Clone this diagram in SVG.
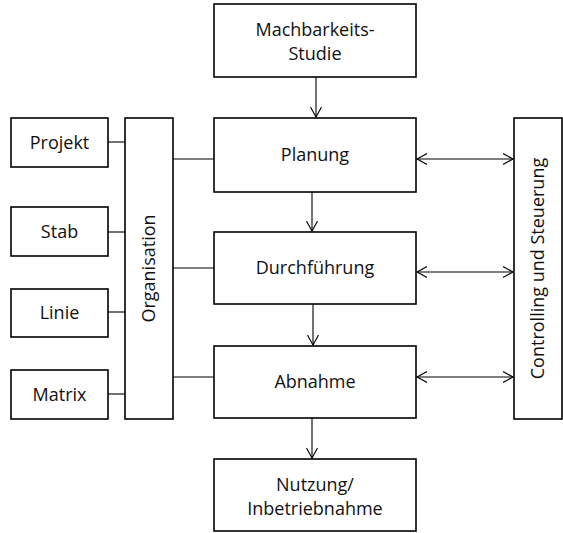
<svg xmlns="http://www.w3.org/2000/svg" width="563" height="533" viewBox="0 0 563 533">
<style>
.box{fill:#fff;stroke:#000;stroke-width:1.6}
.t{font-family:"Open Sans","Noto Sans",sans-serif;font-size:18px;fill:#111;text-anchor:middle}
.c{stroke:#000;stroke-width:1.1;fill:none}
</style>
<defs>
<marker id="ah" markerUnits="userSpaceOnUse" markerWidth="12" markerHeight="14" refX="10" refY="6" orient="auto-start-reverse" viewBox="0 0 12 12">
<path d="M0,0.5 L10,6 L0,11.5" fill="none" stroke="#000" stroke-width="1.1"/>
</marker>
</defs>
<rect width="563" height="533" fill="#fff"/>
<g id="connectors">
<line class="c" x1="316" y1="77" x2="316" y2="117" marker-end="url(#ah)"/>
<line class="c" x1="312" y1="192" x2="312" y2="231" marker-end="url(#ah)"/>
<line class="c" x1="313" y1="304" x2="313" y2="345" marker-end="url(#ah)"/>
<line class="c" x1="312" y1="418" x2="312" y2="458" marker-end="url(#ah)"/>
<line class="c" x1="417" y1="159" x2="513" y2="159" marker-start="url(#ah)" marker-end="url(#ah)"/>
<line class="c" x1="417" y1="272" x2="513" y2="272" marker-start="url(#ah)" marker-end="url(#ah)"/>
<line class="c" x1="417" y1="377" x2="513" y2="377" marker-start="url(#ah)" marker-end="url(#ah)"/>
<line class="c" x1="173" y1="159" x2="214" y2="159"/>
<line class="c" x1="173" y1="268" x2="214" y2="268"/>
<line class="c" x1="173" y1="377" x2="214" y2="377"/>
<line class="c" x1="108" y1="142" x2="125" y2="142"/>
<line class="c" x1="108" y1="232" x2="125" y2="232"/>
<line class="c" x1="108" y1="312" x2="125" y2="312"/>
<line class="c" x1="108" y1="394" x2="125" y2="394"/>
</g>
<g id="machbarkeit"><rect class="box" x="214" y="4" width="202" height="73"/><text class="t" x="315" y="36">Machbarkeits-</text><text class="t" x="315" y="60">Studie</text></g>
<g id="planung"><rect class="box" x="214" y="118" width="202" height="74"/><text class="t" x="315" y="161">Planung</text></g>
<g id="durchfuehrung"><rect class="box" x="214" y="232" width="202" height="72"/><text class="t" x="315" y="274">Durchführung</text></g>
<g id="abnahme"><rect class="box" x="214" y="346" width="202" height="72"/><text class="t" x="315" y="388">Abnahme</text></g>
<g id="nutzung"><rect class="box" x="214" y="459" width="202" height="72"/><text class="t" x="315" y="491">Nutzung/</text><text class="t" x="315" y="515">Inbetriebnahme</text></g>
<g id="projekt"><rect class="box" x="11" y="118" width="97" height="49"/><text class="t" x="59.5" y="148.5">Projekt</text></g>
<g id="stab"><rect class="box" x="11" y="207" width="97" height="49"/><text class="t" x="59.5" y="237.5">Stab</text></g>
<g id="linie"><rect class="box" x="11" y="289" width="97" height="48"/><text class="t" x="59.5" y="319">Linie</text></g>
<g id="matrix"><rect class="box" x="11" y="370" width="97" height="49"/><text class="t" x="59.5" y="400.5">Matrix</text></g>
<g id="organisation"><rect class="box" x="125" y="118" width="48" height="301"/><text class="t" transform="translate(155,268.5) rotate(-90)">Organisation</text></g>
<g id="controlling"><rect class="box" x="514" y="118" width="48" height="301"/><text class="t" transform="translate(544,268.5) rotate(-90)">Controlling und Steuerung</text></g>
</svg>
